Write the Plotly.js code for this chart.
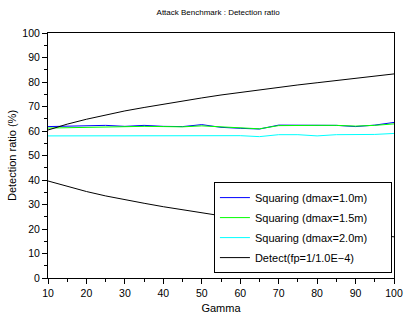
<!DOCTYPE html>
<html>
<head>
<meta charset="utf-8">
<script src="https://cdn.plot.ly/plotly-3.0.1.min.js"></script>
<style>html,body{margin:0;padding:0;background:#fff;}#chart{width:404px;height:316px;}</style>
</head>
<body>
<div id="chart"></div>
<script>
var gamma = [10,15,20,25,30,35,40,45,50,55,60,65,70,75,80,85,90,95,100];
var squaring10 = [61.8,62.0,62.0,62.3,61.9,62.3,61.9,61.8,62.6,61.5,61.1,60.8,62.4,62.4,62.6,62.3,61.8,62.4,63.5];
var squaring15 = [61.2,61.4,61.6,61.8,61.7,61.9,61.8,61.7,62.1,61.6,61.2,60.9,62.2,62.1,62.3,62.3,62.0,62.3,62.9];
var squaring20 = [58.0,58.0,58.0,58.1,58.0,58.1,58.1,58.2,58.3,58.3,58.1,57.7,58.5,58.5,58.0,58.5,58.4,58.6,59.0];
var detectUpper = [60.4,62.8,64.8,66.6,68.2,69.6,71.0,72.3,73.5,74.7,75.8,76.8,77.8,78.8,79.7,80.6,81.5,82.4,83.3];
var detectLower = [39.6,37.3,35.3,33.5,31.9,30.5,29.1,27.8,26.6,25.4,24.3,23.3,22.3,21.3,20.4,19.5,18.6,17.7,16.8];
var names = ["Squaring (dmax=1.0m)","Squaring (dmax=1.5m)","Squaring (dmax=2.0m)","Detect(fp=1/1.0E\u22124)"];

var font = "Liberation Sans, Arial, sans-serif";
var pad = "\u00A0\u00A0\u00A0\u00A0\u00A0\u00A0";
var traces = [
  {x: gamma, y: squaring10, name: names[0] + pad, legendgroup: "a", line: {color: "#0000ff", width: 1}},
  {x: gamma, y: squaring15, name: names[1] + pad, legendgroup: "b", line: {color: "#00ff00", width: 1}},
  {x: gamma, y: squaring20, name: names[2] + pad, legendgroup: "c", line: {color: "#00ffff", width: 1}},
  {x: gamma, y: detectUpper, name: names[3] + pad, legendgroup: "d", line: {color: "#000000", width: 1}},
  {x: gamma, y: detectLower, name: names[3], legendgroup: "d", showlegend: false, line: {color: "#000000", width: 1}}
];
traces.forEach(function(t){ t.type = "scatter"; t.mode = "lines"; t.hoverinfo = "skip"; });

var axisBase = {
  showgrid: false, zeroline: false, showline: true, linecolor: "#000", linewidth: 1,
  mirror: true, ticks: "outside", ticklen: 5, tickcolor: "#000", tickwidth: 1,
  tickfont: {family: font, size: 10.5, color: "#000"},
  minor: {dtick: 5, ticks: "outside", ticklen: 3, tickcolor: "#000", tickwidth: 1, showgrid: false}
};
var layout = {
  width: 404, height: 316,
  margin: {l: 48, r: 10, t: 33, b: 38},
  paper_bgcolor: "#fff", plot_bgcolor: "#fff",
  font: {family: font, color: "#000"},
  title: {text: "Attack Benchmark : Detection ratio", font: {family: font, size: 8, color: "#000"},
          x: 0.54, xanchor: "center", y: 0.96, yanchor: "middle"},
  xaxis: Object.assign({}, axisBase, {range: [10, 100], dtick: 10, tick0: 10,
          title: {text: "Gamma", font: {family: font, size: 11}, standoff: 6}}),
  yaxis: Object.assign({}, axisBase, {range: [0, 100], dtick: 10, tick0: 0,
          title: {text: "Detection ratio (%)", font: {family: font, size: 11}, standoff: 3}}),
  showlegend: true,
  legend: {x: 0.994, xanchor: "right", y: 0.02, yanchor: "bottom", bgcolor: "#fff",
           bordercolor: "#000", borderwidth: 1, font: {family: font, size: 11, color: "#000"},
           traceorder: "grouped", tracegroupgap: 1, itemwidth: 30}
};
Plotly.newPlot("chart", traces, layout, {staticPlot: true, displayModeBar: false});
</script>
</body>
</html>
